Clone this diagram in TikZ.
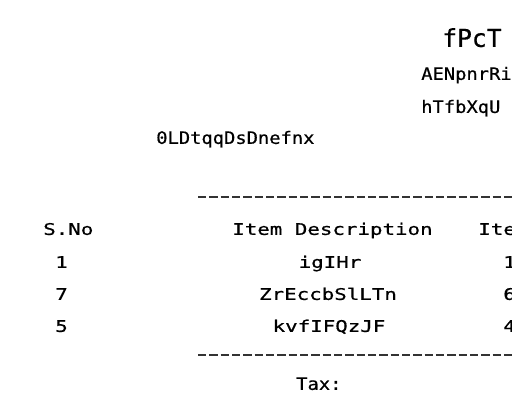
\documentclass[tikz,border=0pt]{standalone}
\usepackage{fontspec}
\newfontfamily\ttlfont[FakeBold=0.6]{DejaVu Sans Mono}
\newfontfamily\midfont[FakeStretch=1.1,FakeBold=0.6]{DejaVu Sans Mono}
\newfontfamily\tabfont[FakeStretch=1.3,FakeBold=0.6]{DejaVu Sans Mono}
\begin{document}
\begin{tikzpicture}[x=0.75pt,y=-0.75pt,
  txt/.style={inner sep=0pt,anchor=mid west,text=black},
  ttl/.style={txt,font=\ttlfont\fontsize{18.5}{20}\selectfont},
  mid/.style={txt,font=\midfont\fontsize{12.8}{14}\selectfont},
  tab/.style={txt,font=\tabfont\fontsize{12}{13}\selectfont},
  tabc/.style={tab,anchor=mid},
  rule/.style={draw=black!80,line width=0.9pt,dash pattern=on 6.3pt off 2.2pt}]
\useasboundingbox (0,0) rectangle (512,400);
\clip (0,0) rectangle (512,400);
\node[ttl] (title) at (442,44) {fPcT};
\node[mid] (l1) at (421,77) {AENpnrRi};
\node[mid] (l2) at (421,110) {hTfbXqU};
\node[mid] (l3) at (156,141) {0LDtqqDsDnefnx};
\coordinate (d1a) at (198,197);
\coordinate (d1b) at (514,197);
\draw[rule] (d1a) -- (d1b);
\node[tab] (hno) at (43,232) {S.No};
\node[tab] (hdesc) at (232,232) {Item Description};
\node[tab] (hprice) at (478,232) {Ite};
\node[tab] (n1) at (55,265) {1};
\node[tabc] (i1) at (330,265) {igIHr};
\node[tab] (p1) at (503,265) {1};
\node[tab] (n2) at (55,297) {7};
\node[tabc] (i2) at (328,297) {ZrEccbSlLTn};
\node[tab] (p2) at (503,297) {6};
\node[tab] (n3) at (55,329) {5};
\node[tabc] (i3) at (329,329) {kvfIFQzJF};
\node[tab] (p3) at (503,329) {4};
\coordinate (d2a) at (198,355);
\coordinate (d2b) at (514,355);
\draw[rule] (d2a) -- (d2b);
\node[mid] (tax) at (296,387) {Tax:};
\end{tikzpicture}
\end{document}
